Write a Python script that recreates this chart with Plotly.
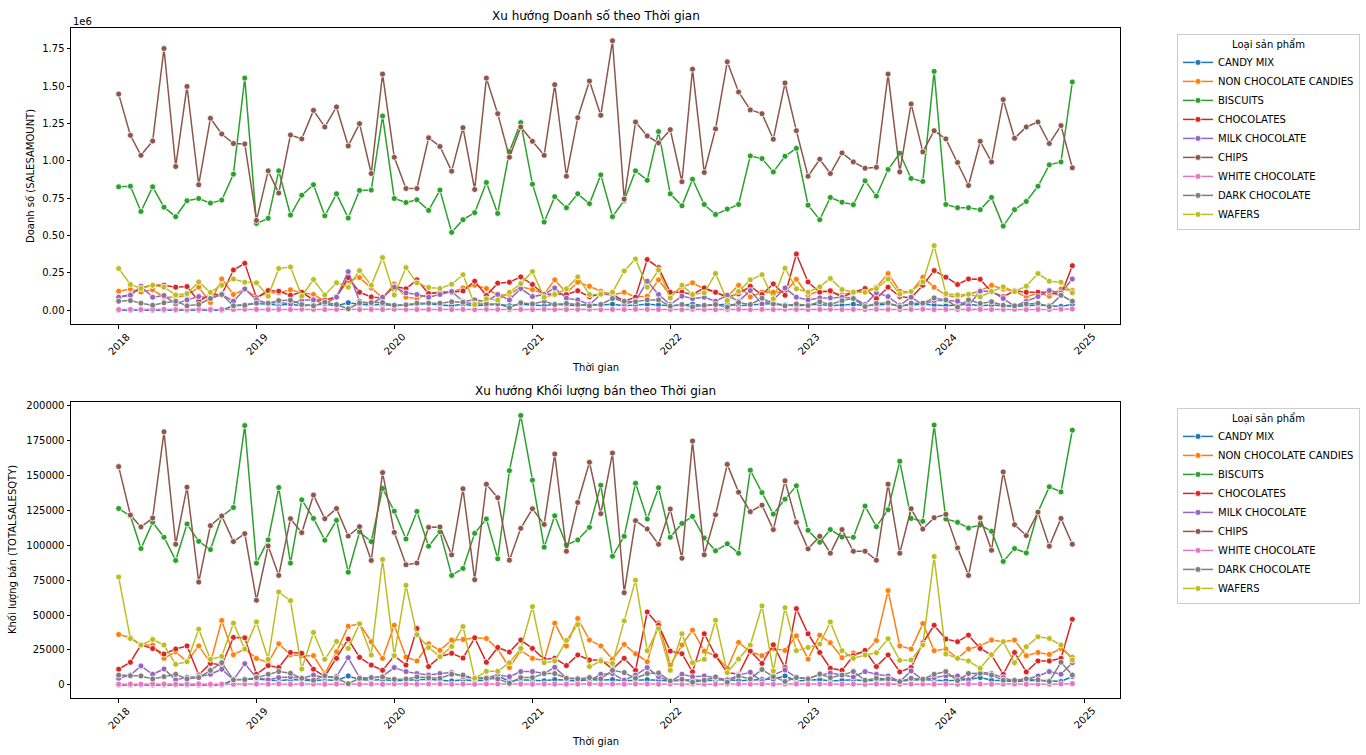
import pandas as pd
import plotly.graph_objects as go

dates = pd.date_range("2018-01-01", periods=84, freq="MS")
categories = ["CANDY MIX", "NON CHOCOLATE CANDIES", "BISCUITS", "CHOCOLATES", "MILK CHOCOLATE",
              "CHIPS", "WHITE CHOCOLATE", "DARK CHOCOLATE", "WAFERS"]
colors = ["#1f77b4", "#ff7f0e", "#2ca02c", "#d62728", "#9467bd", "#8c564b", "#e377c2", "#7f7f7f", "#bcbd22"]
year_ticks = ["2018", "2019", "2020", "2021", "2022", "2023", "2024", "2025"]
amt_ticks = [0, 0.25, 0.5, 0.75, 1.0, 1.25, 1.5, 1.75]
qty_ticks = [0, 25000, 50000, 75000, 100000, 125000, 150000, 175000, 200000]

# ---- SALESAMOUNT (in 1e6) ----
amt_candy_mix = [0, 0, 0, 0, 0, 0, 0, 0, 0, 0, 0.030, 0.035,
                 0.045, 0.040, 0.035, 0.040, 0.030, 0.035, 0.040, 0.030, 0.050, 0.040, 0.035, 0.040,
                 0.030, 0.035, 0.040, 0.045, 0.035, 0.030, 0.040, 0.030, 0.035, 0.040, 0.030, 0.040,
                 0.035, 0.030, 0.040, 0.035, 0.030, 0.040, 0.035, 0.040, 0.030, 0.035, 0.040, 0.035,
                 0.030, 0.035, 0.040, 0.030, 0.035, 0.040, 0.030, 0.035, 0.040, 0.045, 0.035, 0.030,
                 0.035, 0.040, 0.030, 0.035, 0.040, 0.030, 0.035, 0.040, 0.030, 0.035, 0.040, 0.035,
                 0.030, 0.035, 0.040, 0.030, 0.035, 0.030, 0.025, 0.030, 0.035, 0.030, 0.025, 0.040]
amt_non_choc = [0.127, 0.142, 0.122, 0.136, 0.087, 0.087, 0.100, 0.154, 0.051, 0.209, 0.105, 0.140,
                0.087, 0.116, 0.116, 0.136, 0.116, 0.105, 0.060, 0.094, 0.198, 0.218, 0.149, 0.082,
                0.176, 0.087, 0.078, 0.109, 0.120, 0.120, 0.149, 0.167, 0.145, 0.100, 0.105, 0.156,
                0.138, 0.109, 0.203, 0.116, 0.187, 0.160, 0.127, 0.102, 0.120, 0.089, 0.094, 0.203,
                0.100, 0.154, 0.183, 0.142, 0.120, 0.091, 0.167, 0.089, 0.120, 0.120, 0.120, 0.207,
                0.100, 0.131, 0.120, 0.105, 0.120, 0.127, 0.154, 0.245, 0.127, 0.122, 0.221, 0.154,
                0.100, 0.087, 0.105, 0.131, 0.167, 0.142, 0.127, 0.087, 0.116, 0.094, 0.142, 0.131]
amt_biscuits = [0.826, 0.830, 0.661, 0.826, 0.690, 0.626, 0.733, 0.748, 0.717, 0.737, 0.911, 1.554,
                0.581, 0.615, 0.933, 0.637, 0.770, 0.840, 0.632, 0.779, 0.617, 0.802, 0.804, 1.300,
                0.748, 0.721, 0.739, 0.668, 0.804, 0.521, 0.606, 0.653, 0.855, 0.648, 1.062, 1.256,
                0.844, 0.590, 0.760, 0.686, 0.779, 0.713, 0.906, 0.626, 0.735, 0.933, 0.870, 1.196,
                0.779, 0.699, 0.877, 0.708, 0.641, 0.677, 0.708, 1.033, 1.015, 0.926, 1.031, 1.084,
                0.703, 0.606, 0.755, 0.723, 0.706, 0.866, 0.764, 0.942, 1.051, 0.882, 0.862, 1.599,
                0.708, 0.686, 0.686, 0.673, 0.755, 0.563, 0.673, 0.728, 0.830, 0.973, 0.993, 1.528]
amt_chocolates = [0.087, 0.105, 0.150, 0.167, 0.167, 0.154, 0.158, 0.060, 0.105, 0.105, 0.269, 0.314,
                  0.082, 0.131, 0.127, 0.100, 0.120, 0.069, 0.069, 0.089, 0.218, 0.120, 0.089, 0.082,
                  0.160, 0.143, 0.203, 0.111, 0.120, 0.120, 0.129, 0.194, 0.098, 0.181, 0.187, 0.223,
                  0.172, 0.105, 0.110, 0.105, 0.130, 0.090, 0.110, 0.105, 0.060, 0.087, 0.339, 0.285,
                  0.120, 0.120, 0.105, 0.149, 0.120, 0.087, 0.110, 0.160, 0.105, 0.176, 0.100, 0.376,
                  0.189, 0.120, 0.130, 0.087, 0.120, 0.145, 0.078, 0.154, 0.091, 0.082, 0.167, 0.265,
                  0.221, 0.172, 0.209, 0.207, 0.122, 0.090, 0.130, 0.120, 0.120, 0.120, 0.100, 0.298]
amt_milk = [0.087, 0.100, 0.160, 0.087, 0.098, 0.042, 0.069, 0.091, 0.082, 0.105, 0.060, 0.142,
            0.069, 0.047, 0.053, 0.042, 0.069, 0.069, 0.042, 0.087, 0.258, 0.060, 0.042, 0.087,
            0.154, 0.116, 0.105, 0.087, 0.105, 0.125, 0.060, 0.069, 0.060, 0.105, 0.069, 0.145,
            0.091, 0.105, 0.149, 0.080, 0.069, 0.038, 0.105, 0.105, 0.042, 0.060, 0.194, 0.105,
            0.038, 0.094, 0.078, 0.087, 0.060, 0.100, 0.060, 0.131, 0.042, 0.069, 0.149, 0.087,
            0.069, 0.082, 0.082, 0.087, 0.082, 0.038, 0.116, 0.091, 0.033, 0.087, 0.038, 0.065,
            0.065, 0.060, 0.031, 0.127, 0.127, 0.078, 0.027, 0.060, 0.091, 0.131, 0.116, 0.209]
amt_chips = [1.447, 1.171, 1.037, 1.133, 1.752, 0.962, 1.498, 0.840, 1.285, 1.180, 1.116, 1.113,
             0.601, 0.933, 0.784, 1.173, 1.147, 1.338, 1.227, 1.361, 1.100, 1.249, 0.915, 1.581,
             1.024, 0.815, 0.815, 1.154, 1.096, 0.931, 1.222, 0.808, 1.554, 1.316, 1.024, 1.227,
             1.131, 1.037, 1.510, 0.897, 1.289, 1.534, 1.305, 1.804, 0.744, 1.260, 1.167, 1.120,
             1.209, 0.860, 1.614, 0.922, 1.214, 1.663, 1.461, 1.341, 1.316, 1.145, 1.521, 1.202,
             0.897, 1.011, 0.915, 1.053, 0.993, 0.951, 0.957, 1.581, 0.926, 1.381, 1.060, 1.202,
             1.147, 0.989, 0.835, 1.131, 0.993, 1.410, 1.151, 1.227, 1.260, 1.116, 1.236, 0.953]
amt_white = [0.004, 0.005, 0.004, 0.006, 0.005, 0.004, 0.005, 0.006, 0.004, 0.005, 0.004, 0.006,
             0.005, 0.004, 0.005, 0.004, 0.006, 0.005, 0.004, 0.005, 0.006, 0.004, 0.005, 0.004,
             0.006, 0.005, 0.004, 0.005, 0.006, 0.004, 0.005, 0.004, 0.006, 0.005, 0.004, 0.005,
             0.004, 0.006, 0.005, 0.004, 0.005, 0.006, 0.004, 0.005, 0.004, 0.006, 0.005, 0.004,
             0.005, 0.004, 0.006, 0.005, 0.004, 0.005, 0.006, 0.004, 0.005, 0.004, 0.006, 0.005,
             0.004, 0.005, 0.006, 0.004, 0.005, 0.004, 0.006, 0.005, 0.004, 0.005, 0.006, 0.004,
             0.005, 0.004, 0.006, 0.005, 0.004, 0.005, 0.006, 0.004, 0.005, 0.004, 0.006, 0.008]
amt_dark = [0.060, 0.064, 0.047, 0.033, 0.049, 0.060, 0.029, 0.038, 0.078, 0.105, 0.029, 0.033,
            0.047, 0.047, 0.064, 0.067, 0.038, 0.029, 0.053, 0.038, 0.009, 0.049, 0.051, 0.051,
            0.033, 0.036, 0.047, 0.047, 0.047, 0.056, 0.053, 0.042, 0.042, 0.042, 0.016, 0.049,
            0.042, 0.060, 0.038, 0.045, 0.038, 0.029, 0.038, 0.078, 0.060, 0.056, 0.069, 0.069,
            0.027, 0.038, 0.022, 0.033, 0.038, 0.020, 0.051, 0.038, 0.080, 0.042, 0.029, 0.042,
            0.031, 0.056, 0.038, 0.064, 0.078, 0.024, 0.045, 0.049, 0.022, 0.047, 0.047, 0.082,
            0.069, 0.020, 0.069, 0.045, 0.056, 0.033, 0.029, 0.042, 0.047, 0.024, 0.100, 0.060]
amt_wafers = [0.279, 0.172, 0.145, 0.167, 0.154, 0.102, 0.111, 0.189, 0.120, 0.167, 0.209, 0.187,
              0.183, 0.094, 0.279, 0.289, 0.094, 0.205, 0.102, 0.183, 0.154, 0.265, 0.167, 0.352,
              0.102, 0.285, 0.183, 0.152, 0.145, 0.174, 0.238, 0.038, 0.076, 0.067, 0.120, 0.178,
              0.258, 0.087, 0.105, 0.143, 0.223, 0.105, 0.107, 0.120, 0.263, 0.343, 0.154, 0.269,
              0.082, 0.167, 0.105, 0.116, 0.245, 0.065, 0.125, 0.203, 0.238, 0.076, 0.281, 0.143,
              0.120, 0.156, 0.212, 0.138, 0.120, 0.120, 0.145, 0.209, 0.107, 0.125, 0.189, 0.432,
              0.111, 0.102, 0.107, 0.089, 0.125, 0.156, 0.125, 0.161, 0.245, 0.194, 0.187, 0.116]

# ---- TOTALSALESQTY ----
qty_candy_mix = [0, 0, 0, 0, 0, 0, 0, 0, 0, 0, 3600, 3800,
                 4200, 3500, 3000, 3800, 3200, 2900, 3600, 3100, 6400, 3800, 3300, 3900,
                 2900, 3300, 3800, 4100, 3400, 2800, 3700, 3000, 3300, 6400, 2600, 3700,
                 3400, 2900, 3800, 3300, 2800, 3900, 3400, 3800, 2900, 3300, 3700, 3400,
                 2800, 3300, 3700, 2900, 3300, 3800, 2900, 3300, 3800, 4200, 6400, 2800,
                 3300, 3800, 2800, 3300, 3700, 2900, 3300, 3800, 2800, 3300, 3800, 3300,
                 2900, 3300, 3800, 5200, 3300, 2900, 2400, 2900, 3300, 2900, 2400, 6000]
qty_non_choc = [36100, 34000, 28700, 28500, 19000, 23700, 16600, 27900, 15900, 46100, 21600, 25700,
                19000, 15900, 29400, 21600, 20900, 20900, 8000, 23700, 42000, 43700, 30900, 19000,
                42700, 20000, 17100, 29400, 24700, 32100, 32500, 33700, 33200, 25700, 12400, 24700,
                19000, 17300, 44200, 27900, 47500, 32100, 27900, 18300, 29000, 22300, 16600, 44400,
                14200, 28500, 39200, 24200, 20900, 11900, 30400, 23700, 20900, 26100, 24700, 35100,
                18500, 35600, 30200, 19500, 22800, 22800, 31800, 67500, 27900, 25700, 43900, 24500,
                25700, 19000, 25700, 27900, 32100, 30900, 32100, 20900, 23200, 21800, 26100, 19700]
qty_biscuits = [126300, 121000, 97600, 116400, 105700, 89100, 115200, 102800, 96900, 120600, 127000, 185700,
                87200, 103800, 141300, 87200, 132500, 119200, 103600, 117800, 80700, 109500, 102600, 140600,
                124400, 104500, 124200, 99300, 109700, 78400, 83400, 108500, 118800, 90300, 153400, 192900,
                146600, 98600, 121100, 100200, 103800, 112800, 143000, 92100, 106400, 144400, 118800, 141100,
                105700, 115600, 120600, 105200, 96000, 101000, 94300, 153700, 137700, 122300, 133000, 142500,
                110700, 102100, 111200, 105900, 105700, 128000, 113300, 125400, 160100, 119200, 117100, 186000,
                118800, 116400, 112300, 114500, 110000, 88400, 97600, 94500, 123700, 141800, 138200, 182400]
qty_chocolates = [11200, 16200, 28700, 26000, 22100, 25700, 27900, 7100, 15400, 14200, 34000, 33700,
                  7600, 13800, 12400, 23200, 22600, 11200, 6000, 19000, 32800, 19700, 14200, 10400,
                  20900, 14200, 40400, 13100, 20200, 22600, 19200, 33700, 16200, 26800, 23500, 32100,
                  26100, 18300, 19000, 13800, 21400, 17800, 17800, 11400, 19000, 10400, 52200, 42700,
                  24200, 22300, 9300, 36600, 20900, 8800, 7600, 24200, 15400, 28700, 12400, 54600,
                  36600, 23200, 11900, 10400, 20900, 24700, 13100, 21400, 9300, 12400, 30000, 42700,
                  32800, 30900, 35600, 26100, 21400, 7600, 23200, 9300, 17100, 17100, 19000, 47000]
qty_milk = [4700, 7000, 13600, 7600, 11400, 3600, 5500, 5900, 7600, 11200, 3600, 15200,
            5200, 3600, 5200, 5700, 4700, 7000, 5200, 6000, 19500, 5200, 4700, 6200,
            12400, 9500, 8100, 7000, 8100, 8800, 5700, 4700, 5200, 7000, 5900, 9500,
            9500, 8100, 12600, 4700, 4700, 2800, 7600, 8100, 3300, 7000, 12400, 5900,
            2400, 7600, 5900, 6400, 5200, 3600, 7000, 9000, 2400, 7000, 10700, 5200,
            4700, 7000, 8500, 7000, 5700, 9500, 7600, 6400, 2400, 10000, 3600, 5200,
            6600, 6400, 3600, 9000, 8100, 5200, 2800, 4000, 6400, 9500, 7600, 15900]
qty_chips = [156300, 121600, 113100, 119500, 181200, 100700, 141600, 73600, 114000, 120900, 102600, 108300,
             60600, 99500, 78400, 119000, 109000, 135900, 119000, 126300, 106600, 113300, 89100, 152000,
             109200, 86000, 87200, 112800, 113100, 93100, 140400, 75300, 143700, 134000, 89300, 112100,
             126100, 114900, 165300, 95700, 130600, 159400, 122600, 166000, 66000, 117600, 111600, 100700,
             125900, 90700, 174600, 93100, 121800, 157900, 138000, 124000, 128700, 111200, 146100, 116400,
             97400, 106400, 94300, 111200, 95700, 95700, 89300, 143700, 94300, 126100, 111600, 119700,
             122100, 98100, 78400, 119700, 96400, 152500, 114700, 106900, 123700, 99300, 119200, 100700]
qty_white = [500, 600, 500, 700, 600, 500, 600, 700, 500, 600, 500, 700,
             600, 500, 600, 500, 700, 600, 500, 600, 700, 500, 600, 500,
             700, 600, 500, 600, 700, 500, 600, 500, 700, 600, 500, 600,
             500, 700, 600, 500, 600, 700, 500, 600, 500, 700, 600, 500,
             600, 500, 700, 600, 500, 600, 700, 500, 600, 500, 700, 600,
             500, 600, 700, 500, 600, 500, 700, 600, 500, 600, 700, 500,
             600, 500, 700, 600, 500, 600, 700, 500, 600, 500, 700, 900]
qty_dark = [7000, 6600, 6400, 4300, 5900, 7600, 4300, 5200, 10400, 15900, 3600, 3800,
            5200, 7600, 9500, 8300, 4700, 3300, 6600, 4700, 900, 4700, 5200, 5700,
            4000, 4300, 5700, 5000, 4700, 7600, 7000, 4300, 4700, 4300, 1200, 5200,
            5200, 8100, 8100, 4700, 4300, 5200, 4300, 10400, 8800, 4700, 8100, 8500,
            2800, 4000, 1900, 3300, 5700, 1900, 6400, 4300, 11000, 5900, 2400, 5200,
            4300, 7800, 5200, 7000, 9500, 3300, 4700, 4300, 2400, 4700, 4000, 7600,
            9500, 3100, 8100, 8300, 7000, 3300, 3300, 4300, 3600, 2400, 16200, 7000]
qty_wafers = [77200, 33200, 28500, 32500, 28500, 14700, 16600, 39900, 18300, 20400, 44200, 25700,
              45100, 18300, 66500, 60300, 11400, 37500, 18300, 31100, 26100, 43700, 21400, 89800,
              20900, 71300, 35900, 26800, 20200, 27500, 41800, 4700, 9700, 9700, 15900, 26100,
              56000, 15900, 17100, 31800, 43200, 13100, 17100, 15400, 45800, 75000, 24500, 40400,
              10400, 36600, 15900, 18300, 46300, 8800, 18500, 28500, 56500, 9900, 55300, 24500,
              26800, 29200, 45100, 24500, 19000, 21400, 23000, 33000, 17600, 17800, 28500, 91900,
              22100, 19000, 17100, 11900, 21600, 30900, 15900, 27300, 34400, 33200, 28500, 17800]

amt_series = [amt_candy_mix, amt_non_choc, amt_biscuits, amt_chocolates, amt_milk,
              amt_chips, amt_white, amt_dark, amt_wafers]
qty_series = [qty_candy_mix, qty_non_choc, qty_biscuits, qty_chocolates, qty_milk,
              qty_chips, qty_white, qty_dark, qty_wafers]

W, H = 1366, 755
FONT = "DejaVu Sans"
ax_l, ax_r = 71, 1120
top_t, top_b = 26, 323
bot_t, bot_b = 401, 698

def px_x(px):
    return px / W

def px_y(py):
    return 1 - py / H

fig = go.Figure()
for name, col, ys in zip(categories, colors, amt_series):
    fig.add_trace(go.Scatter(x=dates, y=ys, name=name, mode="lines+markers",
                             line=dict(color=col, width=1.5),
                             marker=dict(color=col, size=6, line=dict(color="white", width=0.8)),
                             xaxis="x", yaxis="y", legend="legend"))
for name, col, ys in zip(categories, colors, qty_series):
    fig.add_trace(go.Scatter(x=dates, y=ys, name=name, mode="lines+markers",
                             line=dict(color=col, width=1.5),
                             marker=dict(color=col, size=6, line=dict(color="white", width=0.8)),
                             xaxis="x2", yaxis="y2", legend="legend2"))

span = dates[-1] - dates[0]
xr = [dates[0] - span * 0.05, dates[-1] + span * 0.05]
tickdates = pd.to_datetime([f"{y}-01-01" for y in year_ticks])

axis_common = dict(showline=True, linecolor="black", linewidth=1, mirror=True,
                   ticks="outside", ticklen=3.5, tickwidth=0.8, tickcolor="black",
                   showgrid=False, zeroline=False,
                   tickfont=dict(family=FONT, size=10, color="black"))

legend_common = dict(xanchor="left", yanchor="top",
                     bordercolor="#cccccc", borderwidth=1, bgcolor="rgba(255,255,255,0.8)",
                     font=dict(family=FONT, size=10, color="black"), tracegroupgap=0,
                     title=dict(text="Loại sản phẩm", side="top center",
                                font=dict(family=FONT, size=10, color="black")))

fig.update_layout(
    width=W, height=H, margin=dict(l=0, r=0, t=0, b=0),
    paper_bgcolor="white", plot_bgcolor="white",
    font=dict(family=FONT, size=10, color="black"),
    xaxis=dict(domain=[px_x(ax_l), px_x(ax_r)], anchor="y", type="date", range=xr,
               tickvals=tickdates, showticklabels=False, **axis_common),
    yaxis=dict(domain=[px_y(top_b), px_y(top_t)], anchor="x",
               range=[-0.0935, 1.890], tickvals=amt_ticks, tickformat=".2f", **axis_common),
    xaxis2=dict(domain=[px_x(ax_l), px_x(ax_r)], anchor="y2", type="date", range=xr,
                tickvals=tickdates, showticklabels=False, **axis_common),
    yaxis2=dict(domain=[px_y(bot_b), px_y(bot_t)], anchor="x2",
                range=[-9500, 202600], tickvals=qty_ticks, tickformat="d", **axis_common),
    legend=dict(x=px_x(1177), y=px_y(32), **legend_common),
    legend2=dict(x=px_x(1177), y=px_y(407), **legend_common),
    showlegend=True,
)

ann = []
cx = (ax_l + ax_r) / 2

def add_text(text, xpx, ypx, size=10, angle=0, xanchor="center"):
    ann.append(dict(text=text, x=px_x(xpx), y=px_y(ypx), xref="paper", yref="paper",
                    xanchor=xanchor, yanchor="middle", showarrow=False, textangle=angle,
                    font=dict(family=FONT, size=size, color="black")))

add_text("Xu hướng Doanh số theo Thời gian", cx, 14, size=12)
add_text("Xu hướng Khối lượng bán theo Thời gian", cx, 390, size=12)
add_text("Thời gian", cx, 366)
add_text("Thời gian", cx, 741)
add_text("Doanh số (SALESAMOUNT)", 30, (top_t + top_b) / 2, angle=-90)
add_text("Khối lượng bán (TOTALSALESQTY)", 13, (bot_t + bot_b) / 2, angle=-90)
add_text("1e6", 71, 20, xanchor="left")

for td, lab in zip(tickdates, year_ticks):
    ann.append(dict(text=lab, x=td, y=px_y(343), xref="x", yref="paper", showarrow=False,
                    xanchor="center", yanchor="middle", textangle=-45,
                    font=dict(family=FONT, size=10, color="black")))
    ann.append(dict(text=lab, x=td, y=px_y(718), xref="x2", yref="paper", showarrow=False,
                    xanchor="center", yanchor="middle", textangle=-45,
                    font=dict(family=FONT, size=10, color="black")))
fig.update_layout(annotations=ann)

fig.write_html("out.html")
